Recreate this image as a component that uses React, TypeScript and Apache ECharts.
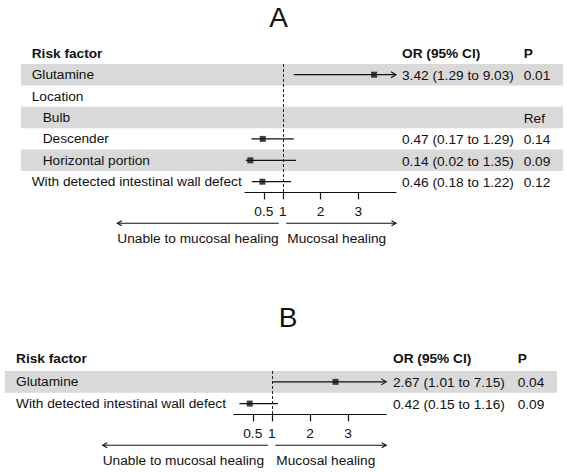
import React, { useEffect, useRef } from "react";
import * as echarts from "echarts";

// ---------- data ----------
const headers = ["Risk factor", "OR (95% CI)", "P"];
const directionLabels = ["Unable to mucosal healing", "Mucosal healing"];
const tickValues = [0.5, 1, 2, 3];
const axisMin = 0;
const axisMax = 4;

const rowsA = ["Glutamine", "Location", "Bulb", "Descender", "Horizontal portion", "With detected intestinal wall defect"];
const indentA = [false, false, true, true, true, false];
const orA: (number | null)[] = [3.42, null, null, 0.47, 0.14, 0.46];
const loA: (number | null)[] = [1.29, null, null, 0.17, 0.02, 0.18];
const hiA: (number | null)[] = [9.03, null, null, 1.29, 1.35, 1.22];
const orTextA = ["3.42 (1.29 to 9.03)", "", "", "0.47 (0.17 to 1.29)", "0.14 (0.02 to 1.35)", "0.46 (0.18 to 1.22)"];
const pA = ["0.01", "", "Ref", "0.14", "0.09", "0.12"];

const rowsB = ["Glutamine", "With detected intestinal wall defect"];
const indentB = [false, false];
const orB: (number | null)[] = [2.67, 0.42];
const loB: (number | null)[] = [1.01, 0.15];
const hiB: (number | null)[] = [7.15, 1.16];
const orTextB = ["2.67 (1.01 to 7.15)", "0.42 (0.15 to 1.16)"];
const pB = ["0.04", "0.09"];

// ---------- layout / style ----------
const FONT = '"Liberation Sans", Arial, Helvetica, sans-serif';
const FS = 13.7;
const INK = "#111";
const BAND = "#d9d9d9";

const panels = [
  {
    title: "A",
    rows: rowsA, indent: indentA, or: orA, lo: loA, hi: hiA, orText: orTextA, p: pA,
    titleX: 278.5, titleY: 17, headerY: 53.5,
    bandLeft: 21, bandRight: 563, top: 64, rowH: 21.4,
    plotLeft: 245, plotWidth: 151, labelMargin: 10.7,
    orX: 402, pX: 523.7, leftTip: 117.3,
  },
  {
    title: "B",
    rows: rowsB, indent: indentB, or: orB, lo: loB, hi: hiB, orText: orTextB, p: pB,
    titleX: 288, titleY: 317, headerY: 358.7,
    bandLeft: 4.7, bandRight: 557, top: 371, rowH: 21.7,
    plotLeft: 233.7, plotWidth: 152.5, labelMargin: 11.3,
    orX: 393, pX: 517.7, leftTip: 102.7,
  },
];

function buildOption() {
  const grid: any[] = [];
  const xAxis: any[] = [];
  const yAxis: any[] = [];
  const series: any[] = [];
  const graphic: any[] = [];

  const txt = (x: number, y: number, text: string, extra: any = {}) => ({
    type: "text",
    x,
    y,
    z: 100,
    silent: true,
    style: {
      text,
      fill: INK,
      font: `${extra.bold ? "bold " : ""}${extra.size || FS}px ${FONT}`,
      textAlign: extra.align || "left",
      textVerticalAlign: "middle",
      verticalAlign: "middle",
    },
  });

  panels.forEach((pn, i) => {
    const n = pn.rows.length;
    const height = n * pn.rowH;
    const bandGi = 2 * i;
    const plotGi = 2 * i + 1;
    const px = (v: number) => pn.plotLeft + ((v - axisMin) / (axisMax - axisMin)) * pn.plotWidth;
    const rowY = (k: number) => pn.top + (k + 0.5) * pn.rowH + 0.8;
    const axisY = pn.top + height;

    grid.push({ left: pn.bandLeft, width: pn.bandRight - pn.bandLeft, top: pn.top, height });
    grid.push({ left: pn.plotLeft, width: pn.plotWidth, top: pn.top, height });

    xAxis.push({ gridIndex: bandGi, type: "value", min: 0, max: 1, show: false });
    xAxis.push({
      gridIndex: plotGi,
      type: "value",
      min: axisMin,
      max: axisMax,
      axisLine: { show: true, onZero: false, lineStyle: { color: INK, width: 1.2 } },
      axisTick: { show: true, customValues: tickValues, length: 7, lineStyle: { color: INK, width: 1.2 } },
      axisLabel: {
        customValues: tickValues,
        color: INK,
        fontSize: FS,
        fontFamily: FONT,
        margin: 12,
        formatter: (v: number) => String(v),
      },
      splitLine: { show: false },
    });

    yAxis.push({
      gridIndex: bandGi,
      type: "category",
      data: pn.rows,
      inverse: true,
      axisLine: { show: false },
      axisTick: { show: false },
      splitLine: { show: false },
      splitArea: { show: true, interval: 0, areaStyle: { color: [BAND, "rgba(255,255,255,0)"] } },
      axisLabel: {
        inside: true,
        interval: 0,
        margin: pn.labelMargin,
        color: INK,
        fontSize: FS,
        fontFamily: FONT,
        formatter: (v: string, idx: number) => (pn.indent[idx] ? `{ind|${v}}` : `{n|${v}}`),
        rich: {
          ind: { padding: [0, 0, 0, 11], color: INK, fontSize: FS, fontFamily: FONT },
          n: { color: INK, fontSize: FS, fontFamily: FONT },
        },
      },
    });
    yAxis.push({ gridIndex: plotGi, type: "category", data: pn.rows, inverse: true, show: false });

    const ciData: number[][] = [];
    const ptData: number[][] = [];
    pn.rows.forEach((_, k) => {
      const lo = pn.lo[k];
      const hi = pn.hi[k];
      const or = pn.or[k];
      if (lo != null && hi != null) ciData.push([k, lo, hi]);
      if (or != null) ptData.push([or, k]);
    });

    series.push({
      type: "custom",
      xAxisIndex: plotGi,
      yAxisIndex: plotGi,
      data: ciData,
      encode: { x: [1, 2], y: 0 },
      silent: true,
      z: 3,
      renderItem: (_params: any, api: any) => {
        const row = api.value(0);
        const lo = api.value(1);
        const hi = api.value(2);
        const clipped = hi > axisMax;
        const p1 = api.coord([Math.max(lo, axisMin), row]);
        const p2 = api.coord([Math.min(hi, axisMax), row]);
        const children: any[] = [
          {
            type: "line",
            shape: { x1: p1[0], y1: p1[1], x2: p2[0], y2: p2[1] },
            style: { stroke: INK, lineWidth: 1.2 },
          },
        ];
        if (clipped) {
          children.push({
            type: "polyline",
            shape: { points: [[p2[0] - 5, p2[1] - 3], [p2[0], p2[1]], [p2[0] - 5, p2[1] + 3]] },
            style: { stroke: INK, fill: "none", lineWidth: 1.1 },
          });
        }
        return { type: "group", children };
      },
    });

    series.push({
      type: "scatter",
      xAxisIndex: plotGi,
      yAxisIndex: plotGi,
      data: ptData,
      symbol: "rect",
      symbolSize: 6,
      itemStyle: { color: INK },
      silent: true,
      z: 4,
      markLine: {
        silent: true,
        symbol: ["none", "none"],
        label: { show: false },
        lineStyle: { color: "#222", width: 1, type: [3, 2] },
        data: [{ xAxis: 1 }],
      },
    });

    // title
    graphic.push(txt(pn.titleX, pn.titleY, pn.title, { size: 28, align: "center" }));
    // headers
    graphic.push(txt(pn.bandLeft + pn.labelMargin, pn.headerY, headers[0], { bold: true }));
    graphic.push(txt(pn.orX, pn.headerY, headers[1], { bold: true }));
    graphic.push(txt(pn.pX, pn.headerY, headers[2], { bold: true }));
    // columns
    pn.rows.forEach((_, k) => {
      if (pn.orText[k]) graphic.push(txt(pn.orX, rowY(k), pn.orText[k]));
      if (pn.p[k]) graphic.push(txt(pn.pX, rowY(k), pn.p[k]));
    });

    // direction arrows
    const ay = axisY + 30.8;
    const ly = axisY + 46;
    const x1 = px(1);
    const leftEnd = x1 - 4;
    const rightStart = x1 + 3.5;
    const rightTip = px(axisMax);
    graphic.push({
      type: "line", silent: true, z: 100,
      shape: { x1: pn.leftTip, y1: ay, x2: leftEnd, y2: ay },
      style: { stroke: INK, lineWidth: 1.1 },
    });
    graphic.push({
      type: "polyline", silent: true, z: 100,
      shape: { points: [[pn.leftTip + 4.5, ay - 2.5], [pn.leftTip, ay], [pn.leftTip + 4.5, ay + 2.5]] },
      style: { stroke: INK, fill: "none", lineWidth: 1.1 },
    });
    graphic.push({
      type: "line", silent: true, z: 100,
      shape: { x1: rightStart, y1: ay, x2: rightTip, y2: ay },
      style: { stroke: INK, lineWidth: 1.1 },
    });
    graphic.push({
      type: "polyline", silent: true, z: 100,
      shape: { points: [[rightTip - 4.5, ay - 2.5], [rightTip, ay], [rightTip - 4.5, ay + 2.5]] },
      style: { stroke: INK, fill: "none", lineWidth: 1.1 },
    });
    graphic.push(txt(pn.leftTip, ly, directionLabels[0]));
    graphic.push(txt(rightStart + 1, ly, directionLabels[1]));
  });

  return {
    animation: false,
    backgroundColor: "#fff",
    textStyle: { fontFamily: FONT },
    grid,
    xAxis,
    yAxis,
    series,
    graphic: { elements: graphic },
  };
}

export default function App() {
  const ref = useRef<HTMLDivElement>(null);
  useEffect(() => {
    if (!ref.current) return;
    const chart = echarts.init(ref.current, null, { renderer: "svg" });
    chart.setOption(buildOption() as any);
    return () => chart.dispose();
  }, []);
  return (
    <div
      ref={ref}
      style={{ position: "fixed", left: 0, top: 0, width: 567, height: 472, background: "#fff" }}
    />
  );
}
